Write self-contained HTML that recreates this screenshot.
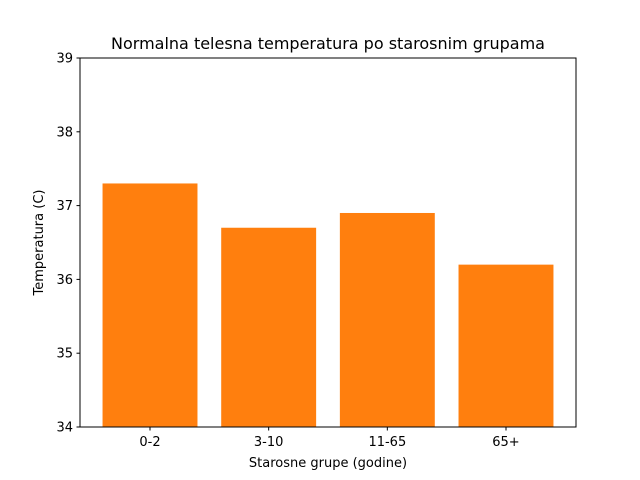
<!DOCTYPE html>
<html><head><meta charset="utf-8"><style>
html,body{margin:0;padding:0;background:#fff;}
svg{display:block;font-family:"DejaVu Sans","Liberation Sans",sans-serif;}
</style></head><body>
<svg id="chart" width="640" height="480" viewBox="0 0 640 480">
<rect width="640" height="480" fill="#fff"/>
<g id="bars"></g>
<rect x="80" y="58" width="496" height="369" fill="none" stroke="#000" stroke-width="1"/>
<g id="yticks"></g>
<g id="xticks"></g>
<text x="328" y="49" text-anchor="middle" font-size="16">Normalna telesna temperatura po starosnim grupama</text>
<text x="328" y="467" text-anchor="middle" font-size="13">Starosne grupe (godine)</text>
<text x="43" y="242.5" text-anchor="middle" font-size="13" transform="rotate(-90 43 242.5)">Temperatura (C)</text>
</svg>
<script>
const categories = ["0-2", "3-10", "11-65", "65+"];
const values = [37.3, 36.7, 36.9, 36.2];
const yTicks = [34, 35, 36, 37, 38, 39];

const NS = "http://www.w3.org/2000/svg";
const L = 80, R = 576, T = 58, B = 427;
const yMin = 34, yMax = 39;
const xMin = -0.59, xMax = categories.length - 1 + 0.59;
const y = v => B - (v - yMin) / (yMax - yMin) * (B - T);
const x = v => L + (v - xMin) / (xMax - xMin) * (R - L);
function mk(tag, attrs, parent) { const e = document.createElementNS(NS, tag); for (const k in attrs) e.setAttribute(k, attrs[k]); parent.appendChild(e); return e; }

const gb = document.getElementById("bars");
values.forEach((v, i) => {
  const r = mk("rect", {x: x(i - 0.4), y: y(v), width: x(i + 0.4) - x(i - 0.4), height: B - y(v), fill: "#ff7f0e"}, gb);
  
  
});
const gy = document.getElementById("yticks");
yTicks.forEach(t => {
  const l = mk("line", {x1: L - 3.5, x2: L, y1: y(t), y2: y(t), stroke: "#000"}, gy);
  
  
  const tx = mk("text", {x: L - 7, y: y(t) + 4.5, "text-anchor": "end", "font-size": "13"}, gy);
  tx.textContent = t;
  
  
});
const gx = document.getElementById("xticks");
categories.forEach((c, i) => {
  const l = mk("line", {x1: x(i), x2: x(i), y1: B, y2: B + 3.5, stroke: "#000"}, gx);
  
  
  const tx = mk("text", {x: x(i), y: B + 19, "text-anchor": "middle", "font-size": "13"}, gx);
  tx.textContent = c;
  
  
});
</script>
</body></html>
